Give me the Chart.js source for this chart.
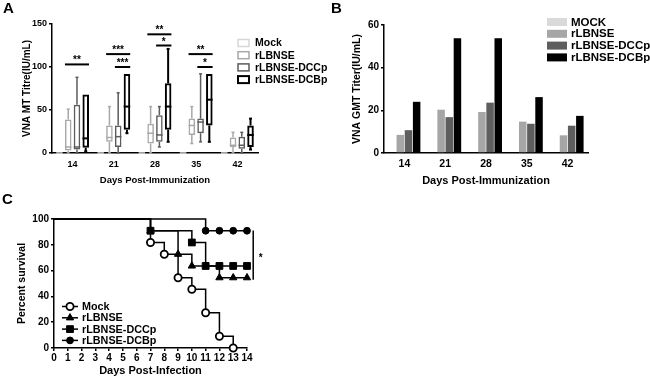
<!DOCTYPE html>
<html><head><meta charset="utf-8">
<script src="https://cdn.jsdelivr.net/npm/chart.js@4.4.0/dist/chart.umd.min.js"></script>
<style>
html,body{margin:0;padding:0;background:#fff;}
#wrap{position:relative;width:650px;height:378px;overflow:hidden;font-family:"Liberation Sans",Arial,sans-serif;}
canvas{position:absolute;}
.lbl{position:absolute;font-weight:bold;font-size:15px;line-height:15px;color:#000;}
</style></head><body>
<div id="wrap">
<canvas id="cA" width="330" height="190" style="left:0;top:0"></canvas>
<canvas id="cB" width="320" height="190" style="left:330px;top:0"></canvas>
<canvas id="cC" width="330" height="188" style="left:0;top:190px"></canvas>
<div class="lbl" style="left:3px;top:0px">A</div>
<div class="lbl" style="left:331px;top:0px">B</div>
<div class="lbl" style="left:2px;top:191px">C</div>
</div>
<script>
// ---------- DATA ----------
const dayLabels = ['14','21','28','35','42'];
// Panel A: box stats per day [min, q1, median, q3, max]
const namesA = ['Mock','rLBNSE','rLBNSE-DCCp','rLBNSE-DCBp'];
const boxMock   = [[0,0,0,0,0],[0,0,0,0,0],[0,0,0,0,0],[0,0,0,0,0],[0,0,0,0,0]];
const boxRLBNSE = [[0,3,7,39,51],[0,13,18,32,54],[0,11,23,34,54],[11,21,32,40,54],[0,7,9,18,24]];
const boxDCCp   = [[0,4,7,56,88],[0,7,19,32,70],[7,13,21,44,54],[13,23,36,40,92],[0,5,9,19,24]];
const boxDCBp   = [[2,6,17,68,68],[23,27,54,92,92],[13,27,54,81,121],[13,32,62,92,92],[4,7,21,32,40]];
// Panel A significance bars
const sigDay    = [0,1,1,2,2,3,3];
const sigFrom   = [1,1,2,1,2,1,2];
const sigTo     = [3,3,3,3,3,3,3];
const sigLevel  = [103,115,100,138,125,115,100];
const sigText   = ['**','***','***','**','*','**','*'];
// Panel B: GMT titres
const namesB = ['MOCK','rLBNSE','rLBNSE-DCCp','rLBNSE-DCBp'];
const gmtMock   = [0,0,0,0,0];
const gmtRLBNSE = [8.5,20.3,19.2,14.7,8.3];
const gmtDCCp   = [10.7,16.8,23.6,13.7,12.8];
const gmtDCBp   = [24,53.8,53.8,26.2,17.4];
// Panel C: survival
const namesC = ['Mock','rLBNSE','rLBNSE-DCCp','rLBNSE-DCBp'];
const survMockDays   = [0,7,8,9,10,11,12,13];
const survMock       = [100,81.8,72.7,54.5,45.5,27.3,9.1,0];
const survRLBNSEDays = [0,7,9,10,12,13,14];
const survRLBNSE     = [100,90.9,72.7,63.6,54.5,54.5,54.5];
const survDCCpDays   = [0,7,10,11,12,13,14];
const survDCCp       = [100,90.9,81.8,63.6,63.6,63.6,63.6];
const survDCBpDays   = [0,11,12,13,14];
const survDCBp       = [100,90.9,90.9,90.9,90.9];
const dayTicksC = [0,14];
const sigCDay = 14.45, sigCTop = 91, sigCBottom = 53, sigCStarDay = 15.0, sigCStarLevel = 72, sigCText = '*';

// ---------- SETUP ----------
Chart.defaults.font.family = '"Liberation Sans", Arial, Helvetica, sans-serif';
Chart.defaults.font.weight = 'bold';
Chart.defaults.color = '#000';
Chart.defaults.animation = false;
Chart.defaults.plugins.legend.display = false;
Chart.defaults.plugins.tooltip.enabled = false;
const FF = '"Liberation Sans", Arial, Helvetica, sans-serif';

function line(ctx,x1,y1,x2,y2){ctx.beginPath();ctx.moveTo(x1,y1);ctx.lineTo(x2,y2);ctx.stroke();}

// ---------- PANEL A ----------
const colA = ['#d6d6d6','#a8a8a8','#5c5c5c','#000000'];
const lwA = [1.5,1.5,1.5,2];
const boxesA = [boxMock, boxRLBNSE, boxDCCp, boxDCBp];

const boxPlugin = {
  id:'boxWhisk',
  afterDatasetsDraw(chart){
    const ctx = chart.ctx, ys = chart.scales.y;
    chart.data.datasets.forEach((ds,di)=>{
      const meta = chart.getDatasetMeta(di);
      meta.data.forEach((bar,i)=>{
        const s = ds.stats[i];
        const x = bar.x, w = bar.width;
        ctx.save();
        ctx.strokeStyle = ds.borderColor; ctx.lineWidth = ds.borderWidth; ctx.lineCap='butt';
        const p = v=>ys.getPixelForValue(v);
        if (s[4] > s[3]) { line(ctx,x,p(s[3]),x,p(s[4])); line(ctx,x-1.5,p(s[4]),x+1.5,p(s[4])); }
        if (s[0] < s[1]) { line(ctx,x,p(s[1]),x,p(s[0])); line(ctx,x-1.5,p(s[0]),x+1.5,p(s[0])); }
        line(ctx,x-w/2,p(s[2]),x+w/2,p(s[2]));
        ctx.restore();
      });
    });
    // significance bars
    ctx.save();
    ctx.strokeStyle='#000'; ctx.fillStyle='#000'; ctx.lineWidth=2;
    ctx.font = 'bold 10px '+FF; ctx.textAlign='center'; ctx.textBaseline='alphabetic';
    sigDay.forEach((d,k)=>{
      const b1 = chart.getDatasetMeta(sigFrom[k]).data[d];
      const b2 = chart.getDatasetMeta(sigTo[k]).data[d];
      const x1 = b1.x - b1.width/2, x2 = b2.x + b2.width/2;
      const y = ys.getPixelForValue(sigLevel[k]);
      line(ctx,x1,y,x2,y);
      ctx.fillText(sigText[k], (x1+x2)/2, y-1);
    });
    ctx.restore();
    // legend
    ctx.save();
    ctx.font = 'bold 10.5px '+FF; ctx.textBaseline='middle'; ctx.textAlign='left';
    chart.data.datasets.forEach((ds,di)=>{
      const y = 43 + di*12.2;
      ctx.strokeStyle = ds.borderColor; ctx.lineWidth = ds.borderWidth;
      ctx.strokeRect(238, y-3.5, 11, 7);
      ctx.fillStyle='#000';
      ctx.fillText(ds.label, 255, y+0.5);
    });
    ctx.restore();
  }
};

new Chart(document.getElementById('cA'), {
  type:'bar',
  data:{
    labels: dayLabels,
    datasets: boxesA.map((b,i)=>({
      label: namesA[i],
      data: b.map(s=>[s[1],s[3]]),
      stats: b,
      backgroundColor:'rgba(0,0,0,0)',
      borderColor: colA[i],
      borderWidth: lwA[i],
      borderSkipped:false,
      categoryPercentage:0.85,
      barPercentage:0.75
    }))
  },
  options:{
    responsive:false,
    layout:{padding:{left:17,right:72,top:24,bottom:0}},
    scales:{
      x:{
        grid:{display:false,drawTicks:false},
        border:{display:true,color:'#000',width:1.5},
        ticks:{font:{size:9,weight:'bold'},padding:6},
        title:{display:true,text:'Days Post-Immunization',font:{size:9.5,weight:'bold'},padding:{top:2,bottom:4}},
        afterFit(s){s.height=37;}
      },
      y:{
        min:0,max:150,
        ticks:{stepSize:50,font:{size:9,weight:'bold'},padding:2},
        grid:{display:true,drawOnChartArea:false,drawTicks:true,tickLength:3,color:'#000',lineWidth:1.5},
        border:{display:true,color:'#000',width:1.5},
        title:{display:true,text:'VNA MT Titre(IU/mL)',font:{size:10,weight:'bold'},padding:{top:4,bottom:2}},
        afterFit(s){s.width=35;}
      }
    }
  },
  plugins:[boxPlugin]
});

// ---------- PANEL B ----------
const colB = ['#d9d9d9','#a6a6a6','#5e5e5e','#000000'];
const gmtAll = [gmtMock,gmtRLBNSE,gmtDCCp,gmtDCBp];
const legendB = {
  id:'legB',
  afterDraw(chart){
    const ctx = chart.ctx;
    ctx.save();
    ctx.font = 'bold 11.5px '+FF; ctx.textBaseline='middle'; ctx.textAlign='left';
    chart.data.datasets.forEach((ds,di)=>{
      const y = 22 + di*11.8;
      ctx.fillStyle = ds.backgroundColor;
      ctx.fillRect(217, y-4, 20, 8);
      ctx.fillStyle='#000';
      ctx.fillText(ds.label, 241, y+0.5);
    });
    ctx.restore();
  }
};
new Chart(document.getElementById('cB'), {
  type:'bar',
  data:{
    labels: dayLabels,
    datasets: gmtAll.map((g,i)=>({
      label: namesB[i], data: g,
      backgroundColor: colB[i], borderWidth:0,
      categoryPercentage:0.8, barPercentage:0.92
    }))
  },
  options:{
    responsive:false,
    layout:{padding:{left:17,right:62,top:25,bottom:0}},
    scales:{
      x:{
        grid:{display:false,drawTicks:false},
        border:{display:true,color:'#000',width:1.5},
        ticks:{font:{size:10.5,weight:'bold'},padding:5},
        title:{display:true,text:'Days Post-Immunization',font:{size:11,weight:'bold'},padding:{top:2,bottom:2}},
        afterFit(s){s.height=37;}
      },
      y:{
        min:0,max:60,
        ticks:{stepSize:20,font:{size:10,weight:'bold'},padding:2},
        grid:{display:true,drawOnChartArea:false,drawTicks:true,tickLength:3,color:'#000',lineWidth:1.5},
        border:{display:true,color:'#000',width:1.5},
        title:{display:true,text:'VNA GMT Titer(IU/mL)',font:{size:10.5,weight:'bold'},padding:{top:4,bottom:2}},
        afterFit(s){s.width=37;}
      }
    }
  },
  plugins:[legendB]
});

// ---------- PANEL C ----------
const styleC = [
  {pointStyle:'circle', radius:3.6, bg:'#ffffff', bw:1.8},
  {pointStyle:'triangle', radius:4.2, bg:'#000000', bw:1},
  {pointStyle:'rect', radius:4.8, bg:'#000000', bw:1},
  {pointStyle:'circle', radius:3.4, bg:'#000000', bw:1}
];
const survDays = [survMockDays,survRLBNSEDays,survDCCpDays,survDCBpDays];
const survVals = [survMock,survRLBNSE,survDCCp,survDCBp];
const legendC = {
  id:'legC',
  afterDraw(chart){
    const ctx = chart.ctx, xs = chart.scales.x, ys = chart.scales.y;
    ctx.save();
    // significance
    ctx.strokeStyle='#000'; ctx.lineWidth=1.5;
    const sx = xs.getPixelForValue(sigCDay);
    line(ctx, sx, ys.getPixelForValue(sigCTop), sx, ys.getPixelForValue(sigCBottom));
    ctx.fillStyle='#000'; ctx.font='bold 10px '+FF; ctx.textAlign='center'; ctx.textBaseline='alphabetic';
    ctx.fillText(sigCText, xs.getPixelForValue(sigCStarDay), ys.getPixelForValue(sigCStarLevel)+5.5);
    // legend
    ctx.font = 'bold 10.8px '+FF; ctx.textBaseline='middle'; ctx.textAlign='left';
    chart.data.datasets.forEach((ds,di)=>{
      const y = 116.5 + di*11.3;
      ctx.strokeStyle='#000'; ctx.lineWidth=1.5;
      line(ctx, 62, y, 78, y);
      const st = styleC[di];
      ctx.fillStyle = st.bg; ctx.lineWidth = st.bw;
      Chart.helpers.drawPoint(ctx, {pointStyle:st.pointStyle, radius:st.radius, rotation:0, borderWidth:st.bw}, 70, y);
      ctx.fillStyle='#000';
      ctx.fillText(ds.label, 82, y+0.5);
    });
    ctx.restore();
  }
};
new Chart(document.getElementById('cC'), {
  type:'line',
  data:{
    datasets: survVals.map((v,i)=>({
      label: namesC[i],
      data: v.map((s,j)=>({x:survDays[i][j], y:s})),
      stepped:'before',
      borderColor:'#000', borderWidth:1.5, fill:false,
      pointStyle: styleC[i].pointStyle,
      pointRadius: c=> c.dataIndex===0 ? 0 : styleC[i].radius,
      pointBackgroundColor: styleC[i].bg,
      pointBorderColor:'#000',
      pointBorderWidth: styleC[i].bw,
      clip:false
    }))
  },
  options:{
    responsive:false,
    layout:{padding:{left:12,right:83,top:29,bottom:0}},
    scales:{
      x:{
        type:'linear', min:dayTicksC[0], max:dayTicksC[1],
        ticks:{stepSize:1,font:{size:10,weight:'bold'},padding:1,autoSkip:false,maxRotation:0},
        grid:{display:true,drawOnChartArea:false,drawTicks:true,tickLength:3,color:'#000',lineWidth:1.5},
        border:{display:true,color:'#000',width:1.5},
        title:{display:true,text:'Days Post-Infection',font:{size:11,weight:'bold'},padding:{top:1,bottom:0}},
        afterFit(s){s.height=30;}
      },
      y:{
        min:0,max:100,
        ticks:{stepSize:20,font:{size:10,weight:'bold'},padding:2},
        grid:{display:true,drawOnChartArea:false,drawTicks:true,tickLength:3,color:'#000',lineWidth:1.5},
        border:{display:true,color:'#000',width:1.5},
        title:{display:true,text:'Percent survival',font:{size:10.5,weight:'bold'},padding:{top:4,bottom:2}},
        afterFit(s){s.width=42;}
      }
    }
  },
  plugins:[legendC]
});
</script>
</body></html>
